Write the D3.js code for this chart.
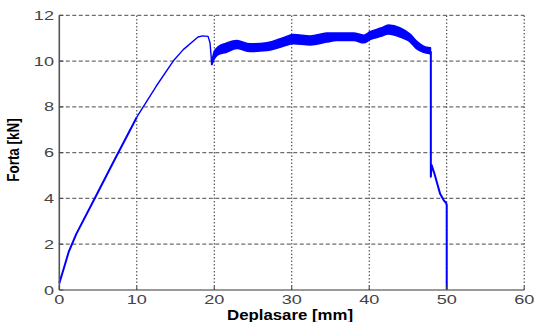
<!DOCTYPE html>
<html><head><meta charset="utf-8">
<script src="https://cdn.jsdelivr.net/npm/d3@7"></script>
<style>html,body{margin:0;padding:0;background:#fff;}svg{display:block;}</style>
</head><body>
<svg id="chart" width="534" height="322"></svg>
<script>
// ---- data ----
const xTicks = [0, 10, 20, 30, 40, 50, 60];
const yTicks = [0, 2, 4, 6, 8, 10, 12];
const xLabel = "Deplasare [mm]";
const yLabel = "Forta [kN]";

// elastic/plastic loading branch (mm, kN)
const loadDisp  = [0, 0.5, 1.2, 2.2, 4.6, 7.0, 10.0, 12.5, 14.7, 16.0, 17.9, 18.5, 19.2, 19.45, 19.6, 19.65, 19.8];
const loadForce = [0.3, 0.85, 1.65, 2.45, 4.02, 5.6, 7.55, 8.9, 10.0, 10.5, 11.05, 11.1, 11.08, 10.8, 10.2, 9.85, 10.0];

// noisy plateau envelope
const bandDisp = [19.7, 20.0, 20.5, 21.5, 22.9, 24.6, 26.8, 28.9, 30.2, 32.4, 34.5, 35.8, 38.0, 39.3, 40.1, 41.5, 42.5, 44.0, 45.3, 46.1, 47.0, 47.9];
const bandLow  = [9.85, 10.1, 10.28, 10.38, 10.55, 10.42, 10.46, 10.65, 10.76, 10.71, 10.83, 10.9, 10.9, 10.8, 10.94, 11.08, 11.19, 11.05, 10.83, 10.54, 10.39, 10.32];
const bandHigh = [10.0, 10.42, 10.62, 10.77, 10.9, 10.75, 10.8, 11.02, 11.16, 11.09, 11.22, 11.23, 11.23, 11.13, 11.28, 11.44, 11.57, 11.45, 11.17, 10.87, 10.65, 10.58];

// failure branch
const failDisp  = [47.9, 47.95, 47.95, 48.05, 48.4, 49.15, 49.6, 49.95, 50.0, 50.0];
const failForce = [10.4, 10.4, 4.95, 5.46, 5.1, 4.2, 3.93, 3.78, 3.7, 0];

// ---- drawing ----
const svg = d3.select("#chart");
const x = d3.scaleLinear().domain([0, 60]).range([59.3, 524.2]);
const y = d3.scaleLinear().domain([0, 12]).range([290, 15.3]);
const blue = "#0000ff";

// grid
svg.append("g").selectAll("line").data(yTicks.filter(d => d > 0)).join("line")
  .attr("x1", x(0)).attr("x2", x(60)).attr("y1", d => y(d)).attr("y2", d => y(d))
  .attr("stroke", "#6e6e6e").attr("stroke-width", 1.2).attr("stroke-dasharray", "4,2.5");
svg.append("g").selectAll("line").data(xTicks.filter(d => d > 0)).join("line")
  .attr("x1", d => x(d)).attr("x2", d => x(d)).attr("y1", y(0)).attr("y2", y(12))
  .attr("stroke", "#333").attr("stroke-width", 1).attr("stroke-dasharray", "1.5,2");

// data
const line = d3.line().x(d => x(d[0])).y(d => y(d[1]));
const loadPts = loadDisp.map((d, i) => [d, loadForce[i]]);
const split = loadDisp.indexOf(10.0);
svg.append("path").datum(loadPts.slice(0, split + 1))
  .attr("d", line).attr("fill", "none").attr("stroke", blue).attr("stroke-width", 2)
  .attr("stroke-linejoin", "round");
svg.append("path").datum(loadPts.slice(split))
  .attr("d", line).attr("fill", "none").attr("stroke", blue).attr("stroke-width", 1.4)
  .attr("stroke-linejoin", "round");
const area = d3.area().x(d => x(d[0])).y0(d => y(d[1])).y1(d => y(d[2])).curve(d3.curveMonotoneX);
svg.append("path").datum(bandDisp.map((d, i) => [d, bandLow[i], bandHigh[i]]))
  .attr("d", area).attr("fill", blue).attr("stroke", blue).attr("stroke-width", 1.6)
  .attr("stroke-linejoin", "round");
svg.append("path").datum(failDisp.map((d, i) => [d, failForce[i]]))
  .attr("d", line).attr("fill", "none").attr("stroke", blue).attr("stroke-width", 2)
  .attr("stroke-linejoin", "round");

// axes (left & bottom solid)
svg.append("line").attr("x1", x(0)).attr("x2", x(0)).attr("y1", y(0)).attr("y2", y(12))
  .attr("stroke", "#555").attr("stroke-width", 1.6);
svg.append("line").attr("x1", x(0)).attr("x2", x(60)).attr("y1", y(0)).attr("y2", y(0))
  .attr("stroke", "#777").attr("stroke-width", 1.6);
// inward ticks
svg.append("g").selectAll("line").data(xTicks).join("line")
  .attr("x1", d => x(d)).attr("x2", d => x(d)).attr("y1", y(0)).attr("y2", y(0) - 4)
  .attr("stroke", "#444").attr("stroke-width", 1);
svg.append("g").selectAll("line").data(yTicks).join("line")
  .attr("x1", x(0)).attr("x2", x(0) + 4).attr("y1", d => y(d)).attr("y2", d => y(d))
  .attr("stroke", "#444").attr("stroke-width", 1);

// tick labels
const tickFont = "'Liberation Sans', Arial, sans-serif";
svg.append("g").selectAll("text").data(xTicks).join("text")
  .attr("transform", d => `translate(${x(d)},303.5) scale(1.45,1)`)
  .attr("text-anchor", "middle").attr("font-family", tickFont).attr("font-size", 12.5)
  .attr("fill", "#444").text(d => d);
svg.append("g").selectAll("text").data(yTicks).join("text")
  .attr("transform", d => `translate(54,${y(d) + 4.5}) scale(1.45,1)`)
  .attr("text-anchor", "end").attr("font-family", tickFont).attr("font-size", 12.5)
  .attr("fill", "#444").text(d => d);

// axis labels
svg.append("text").attr("transform", "translate(290,319.5) scale(1.2,1)")
  .attr("text-anchor", "middle").attr("font-family", tickFont).attr("font-weight", "bold")
  .attr("font-size", 14).attr("fill", "#000").text(xLabel);
svg.append("text").attr("transform", "translate(18.5,150) rotate(-90) scale(1,1.25)")
  .attr("text-anchor", "middle").attr("font-family", tickFont).attr("font-weight", "bold")
  .attr("font-size", 13.5).attr("fill", "#000").text(yLabel);
</script>
</body></html>
